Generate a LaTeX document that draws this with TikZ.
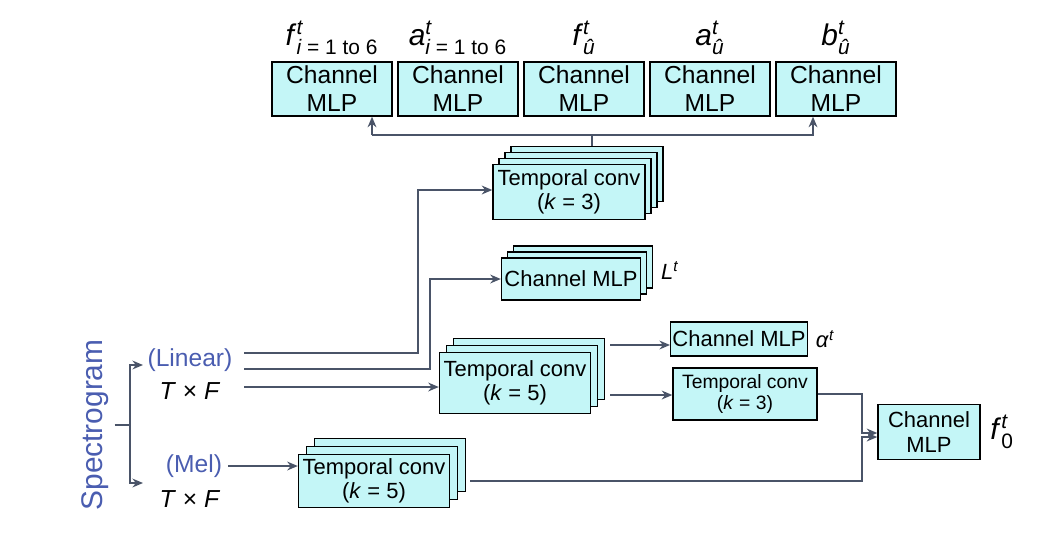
\documentclass[tikz,border=0pt]{standalone}
\usepackage{amsmath}
\usepackage{fontspec}
\setmainfont{Liberation Sans}
\usetikzlibrary{arrows.meta,calc,positioning}
\definecolor{boxfill}{RGB}{196,246,247}
\definecolor{wire}{RGB}{74,84,104}
\definecolor{specblue}{RGB}{74,93,176}
\newcommand{\vr}[3]{\textit{#1}$^{\text{\itshape #2}}_{\text{#3}}$}
\begin{document}
\begin{tikzpicture}[x=0.02cm, y=-0.02cm, >={Stealth[length=6pt,width=5pt]}, font=\fontsize{12.5}{14}\selectfont]

    \tikzset{blk/.style={rectangle, draw=black, fill=boxfill, thick, align=center, inner sep=1pt},
             wr/.style={draw=wire, line width=1.1pt},
             lbl/.style={font=\fontsize{14}{16}\selectfont}}

    \useasboundingbox (0,0) rectangle (1043,535);

    % top row of heads
    \foreach \n/\x/\t in {hf/332/{\vr{f}{t}{\itshape i \upshape= 1 to 6}}, ha/458/{\vr{a}{t}{\itshape i \upshape= 1 to 6}}, hfu/584/{\vr{f}{t}{\itshape \^u}}, hau/710/{\vr{a}{t}{\itshape \^u}}, hbu/836/{\vr{b}{t}{\itshape \^u}}} {
        \node (\n) [blk, minimum width=2.4cm, minimum height=1.08cm, font=\fontsize{14}{16}\selectfont] at (\x,89) {Channel\\MLP};
        \node [lbl, font=\fontsize{17}{18}\selectfont] at (\x,38) {\t};
    }

    % stacks
    \foreach \d in {3,2,1}
        \node (tca-\d) [blk, minimum width=3.04cm, minimum height=1.1cm] at (569+6*\d,192-6*\d) {};
    \node (tca) [blk, minimum width=3.04cm, minimum height=1.1cm] at (569,192) {Temporal conv\\(\textit{k} = 3)};

    \foreach \d in {2,1}
        \node (cml-\d) [blk, minimum width=2.78cm, minimum height=0.84cm] at (571+6*\d,279-6*\d) {};
    \node (cml) [blk, minimum width=2.78cm, minimum height=0.84cm] at (571,279) {Channel MLP};
    \node [right=1pt of cml-2, yshift=-2pt] {\textit{L}$^{\text{\itshape t}}$};

    \foreach \d in {2,1}
        \node (tcb-\d) [blk, minimum width=3.02cm, minimum height=1.22cm] at (515+7*\d,383-7*\d) {};
    \node (tcb) [blk, minimum width=3.02cm, minimum height=1.22cm] at (515,383) {Temporal conv\\(\textit{k} = 5)};

    \foreach \d in {2,1}
        \node (tcm-\d) [blk, minimum width=3.02cm, minimum height=1.06cm] at (374+8*\d,481-8*\d) {};
    \node (tcm) [blk, minimum width=3.02cm, minimum height=1.06cm] at (374,481) {Temporal conv\\(\textit{k} = 5)};

    \node (alp) [blk, minimum width=2.62cm, minimum height=0.68cm] at (739,339) {Channel MLP};
    \node [right=1pt of alp] {\textit{α}$^{\text{\itshape t}}$};
    \node (tcs) [blk, minimum width=2.88cm, minimum height=1.04cm, font=\fontsize{11}{12.5}\selectfont] at (745,394) {Temporal conv\\(\textit{k} = 3)};
    \node (fin) [blk, minimum width=2.04cm, minimum height=1.1cm] at (929,432) {Channel\\MLP};
    \node [right=2pt of fin, font=\fontsize{17}{18}\selectfont] {\vr{f}{t}{0}};

    % inputs
    \node (spec) [rotate=90, text=specblue, font=\fontsize{17}{18}\selectfont] at (95,425) {Spectrogram};
    \node (lin) [text=specblue, lbl] at (190,360) {(Linear)};
    \node (tfa) [lbl] at (190,391) {\textit{T} × \textit{F}};
    \node (mel) [text=specblue, lbl] at (194,466) {(Mel)};
    \node (tfb) [lbl] at (190,499) {\textit{T} × \textit{F}};
    \coordinate (br) at (130,425);

    % wiring
    \draw[wr] (spec.south) -- (br);
    \draw[wr, ->] (br) |- (143,365);
    \draw[wr, ->] (br) |- (143,483);
    \draw[wr, ->] (244,353) -| (418,190) -- (tca.west |- 0,190);
    \draw[wr, ->] (244,369) -| (430,279) -- (cml.west);
    \draw[wr, ->] (244,387) -- (tcb.west |- 0,387);
    \draw[wr, ->] (mel.east) -- (tcm.west |- mel.east);
    \draw[wr, ->] (610,345) -- (alp.west |- 0,345);
    \draw[wr, ->] (610,395) -- (tcs.west |- 0,395);
    \draw[wr, ->] (tcs.east) -| (862,433) -- (fin.west |- 0,433);
    \draw[wr, ->] (470,481) -| (862,437) -- (fin.west |- 0,437);
    \draw[wr] (tca-3.north -| 592,0) -- (592,135);
    \draw[wr, ->] (372,135) -- (hf.south -| 372,0);
    \draw[wr, ->] (592,135) -| (hbu.south -| 813,0);
    \draw[wr] (592,135) -- (372,135);
\end{tikzpicture}
\end{document}
